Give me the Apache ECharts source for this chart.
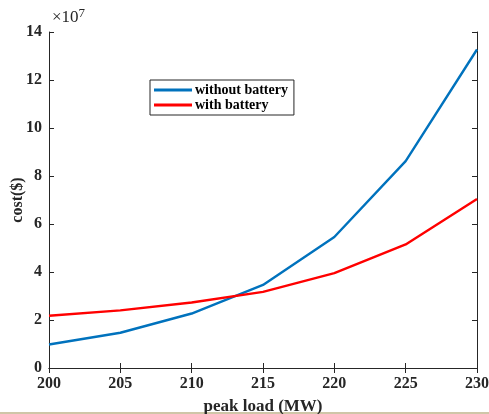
<!DOCTYPE html>
<html><head><meta charset="utf-8">
<script src="https://cdn.jsdelivr.net/npm/echarts@6/dist/echarts.min.js"></script>
<style>html,body{margin:0;padding:0;background:#fff}#c{width:489px;height:414px}</style>
</head><body><div id="c"></div>
<script>
const peakLoad = [200, 205, 210, 215, 220, 225, 230];
const withoutBattery = [0.98, 1.47, 2.27, 3.46, 5.46, 8.62, 13.27];
const withBattery = [2.18, 2.40, 2.73, 3.17, 3.95, 5.15, 7.04];
const seriesNames = ['without battery', 'with battery'];
const yTicks = [0, 2, 4, 6, 8, 10, 12, 14];

const font = 'Liberation Serif';
const chart = echarts.init(document.getElementById('c'));
const tickStyle = {show: true, inside: true, length: 5, lineStyle: {color: '#262626'}};
const lineStyle = {show: true, lineStyle: {color: '#262626', width: 1}};
chart.setOption({
  animation: false,
  grid: {left: 49, right: 12, top: 32, bottom: 46, containLabel: false, outerBoundsMode: 'none'},
  xAxis: [{
    type: 'value', min: 200, max: 230, interval: 5,
    axisLine: lineStyle, axisTick: tickStyle, splitLine: {show: false},
    axisLabel: {fontFamily: font, fontWeight: 'bold', fontSize: 16, color: '#262626', margin: 8},
    name: 'peak load (MW)', nameLocation: 'middle', nameGap: 30,
    nameTextStyle: {fontFamily: font, fontWeight: 'bold', fontSize: 17, color: '#262626'}
  }, {
    type: 'value', position: 'top', min: 200, max: 230, interval: 5,
    axisLine: lineStyle, axisTick: tickStyle, axisLabel: {show: false}, splitLine: {show: false}
  }],
  yAxis: [{
    type: 'value', min: 0, max: 14, interval: 2,
    axisLine: lineStyle, axisTick: tickStyle, splitLine: {show: false},
    axisLabel: {fontFamily: font, fontWeight: 'bold', fontSize: 16, color: '#262626', margin: 7,
      formatter: v => yTicks.includes(v) ? String(v) : ''}
  }, {
    type: 'value', position: 'right', min: 0, max: 14, interval: 2,
    axisLine: lineStyle, axisTick: tickStyle, axisLabel: {show: false}, splitLine: {show: false}
  }],
  legend: {
    left: 150, top: 80, orient: 'vertical', itemGap: 1,
    padding: [3, 6, 3, 4],
    borderColor: '#262626', borderWidth: 1, backgroundColor: '#fff',
    icon: 'rect', itemWidth: 38, itemHeight: 3,
    textStyle: {fontFamily: font, fontWeight: 'bold', fontSize: 14, color: '#000', padding: [0, 0, 0, -2]},
    data: seriesNames
  },
  graphic: [{
    type: 'text', left: 52, top: 7,
    style: {
      text: '×10{s|7}',
      font: '17px "Liberation Serif"', fill: '#262626',
      rich: {s: {fontSize: 13, fontFamily: font, verticalAlign: 'top', padding: [0, 0, 9, 0]}}
    }
  }, {
    type: 'text', x: 17.5, y: 200, rotation: Math.PI / 2,
    style: {
      text: 'cost($)', align: 'center', verticalAlign: 'middle',
      font: 'bold 16px "Liberation Serif"', fill: '#262626'
    }
  }, {
    type: 'line', shape: {x1: 0, y1: 413, x2: 489, y2: 413},
    style: {stroke: '#cfc6a8', lineWidth: 2}
  }],
  series: [{
    name: seriesNames[0], type: 'line', showSymbol: false,
    data: peakLoad.map((x, i) => [x, withoutBattery[i]]),
    lineStyle: {color: '#0072BD', width: 2.4}, itemStyle: {color: '#0072BD'}
  }, {
    name: seriesNames[1], type: 'line', showSymbol: false,
    data: peakLoad.map((x, i) => [x, withBattery[i]]),
    lineStyle: {color: '#FF0000', width: 2.4}, itemStyle: {color: '#FF0000'}
  }]
});
</script></body></html>
